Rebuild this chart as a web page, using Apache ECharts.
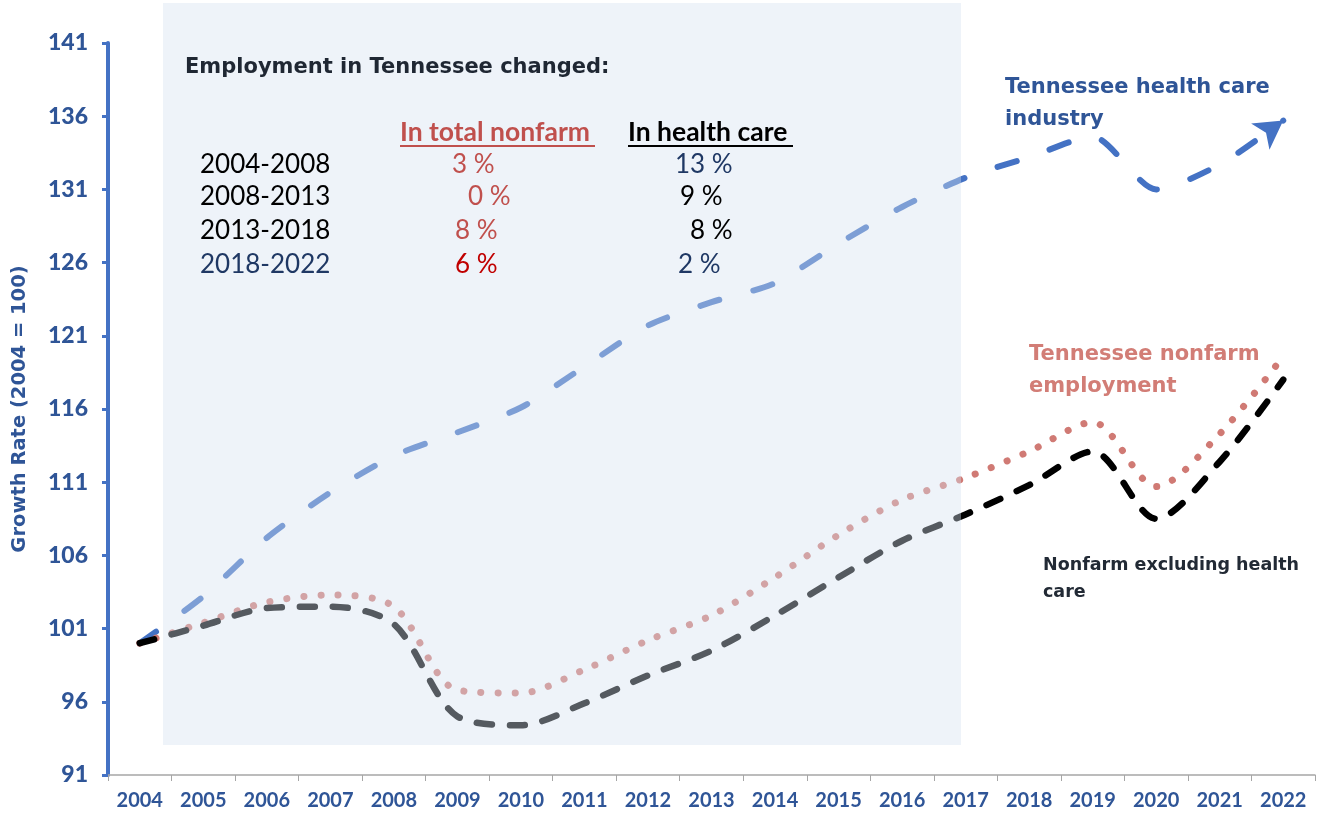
<!DOCTYPE html>
<html>
<head>
<meta charset="utf-8">
<script src="https://cdn.jsdelivr.net/npm/echarts@6/dist/echarts.min.js"></script>
<style>
html,body{margin:0;padding:0;background:#fff;}
#chart{width:1327px;height:817px;}
</style>
</head>
<body>
<div id="chart"></div>
<script>
const years = ['2004','2005','2006','2007','2008','2009','2010','2011','2012','2013','2014','2015','2016','2017','2018','2019','2020','2021','2022'];
const healthCare = [100, 103.2, 107.2, 110.3, 112.8, 114.4, 116.1, 118.9, 121.7, 123.3, 124.6, 127.3, 129.8, 131.8, 133.2, 134.6, 131.0, 132.7, 135.7];
const totalNonfarm = [100, 101.4, 102.8, 103.3, 102.5, 96.8, 96.6, 98.2, 100.2, 101.9, 104.5, 107.4, 109.8, 111.3, 113.1, 115.1, 110.7, 114.3, 119.6];
const nonfarmExHealth = [100, 101.2, 102.4, 102.5, 101.3, 95.0, 94.4, 95.9, 97.8, 99.5, 101.9, 104.5, 107.0, 108.8, 110.8, 113.1, 108.5, 112.4, 118.0];

const periods = ['2004-2008','2008-2013','2013-2018','2018-2022'];
const nonfarmChange = ['3 %','0 %','8 %','6 %'];
const healthChange = ['13 %','9 %','8 %','2 %'];

const FONT = 'Lato';
const WIDE = '"DejaVu Sans"';
const chart = echarts.init(document.getElementById('chart'));

const healthData = healthCare.map((v, i) => i === healthCare.length - 1
  ? {value: v, symbol: 'arrow', symbolSize: [24, 28], symbolRotate: -55}
  : v);

const periodColors = ['#000000','#000000','#000000','#1f3864'];
const nfColors = ['#c0504d','#c0504d','#c0504d','#c00000'];
const nfX = [452, 468, 455, 455];
const hcColors = ['#1f3864','#000000','#000000','#1f3864'];
const hcX = [675, 680, 690, 678];
const rowY = [165, 197, 231, 265];

const graphics = [
  {type: 'rect', z: 50, shape: {x: 163, y: 3, width: 798, height: 742}, style: {fill: 'rgba(213,224,240,0.4)'}},
  {type: 'text', z: 60, x: 185, y: 68, style: {text: 'Employment in Tennessee changed:', font: 'bold 21px ' + WIDE, fill: '#1f2733', textVerticalAlign: 'middle'}},
  {type: 'text', z: 60, x: 400, y: 132, style: {text: 'In total nonfarm', font: 'bold 26.5px ' + FONT, fill: '#c0504d', textVerticalAlign: 'middle'}},
  {type: 'line', z: 60, shape: {x1: 400, y1: 146, x2: 595, y2: 146}, style: {stroke: '#c0504d', lineWidth: 2}},
  {type: 'text', z: 60, x: 628, y: 132, style: {text: 'In health care', font: 'bold 26.5px ' + FONT, fill: '#000000', textVerticalAlign: 'middle'}},
  {type: 'line', z: 60, shape: {x1: 628, y1: 146, x2: 793, y2: 146}, style: {stroke: '#000000', lineWidth: 2}},
  {type: 'text', z: 60, x: 1005, y: 88, style: {text: 'Tennessee health care', font: 'bold 21px ' + WIDE, fill: '#2f5597', textVerticalAlign: 'middle'}},
  {type: 'text', z: 60, x: 1005, y: 120, style: {text: 'industry', font: 'bold 21px ' + WIDE, fill: '#2f5597', textVerticalAlign: 'middle'}},
  {type: 'text', z: 60, x: 1029, y: 355, style: {text: 'Tennessee nonfarm', font: 'bold 21px ' + WIDE, fill: '#d27d76', textVerticalAlign: 'middle'}},
  {type: 'text', z: 60, x: 1029, y: 387, style: {text: 'employment', font: 'bold 21px ' + WIDE, fill: '#d27d76', textVerticalAlign: 'middle'}},
  {type: 'text', z: 60, x: 1043, y: 565, style: {text: 'Nonfarm excluding health', font: 'bold 17.5px ' + WIDE, fill: '#222a35', textVerticalAlign: 'middle'}},
  {type: 'text', z: 60, x: 1043, y: 592, style: {text: 'care', font: 'bold 17.5px ' + WIDE, fill: '#222a35', textVerticalAlign: 'middle'}}
];
periods.forEach((p, i) => {
  graphics.push({type: 'text', z: 60, x: 200, y: rowY[i], style: {text: p, font: '26px ' + FONT, fill: periodColors[i], textVerticalAlign: 'middle'}});
  graphics.push({type: 'text', z: 60, x: nfX[i], y: rowY[i], style: {text: nonfarmChange[i], font: '26px ' + FONT, fill: nfColors[i], textVerticalAlign: 'middle'}});
  graphics.push({type: 'text', z: 60, x: hcX[i], y: rowY[i], style: {text: healthChange[i], font: '26px ' + FONT, fill: hcColors[i], textVerticalAlign: 'middle'}});
});

chart.setOption({
  animation: false,
  backgroundColor: '#ffffff',
  grid: {left: 108, right: 12, top: 43, bottom: 42},
  xAxis: {
    type: 'category',
    data: years,
    boundaryGap: true,
    axisLine: {lineStyle: {color: '#a6a6a6', width: 1.5}},
    axisTick: {show: true, length: 6, lineStyle: {color: '#a6a6a6'}},
    axisLabel: {color: '#2f5597', fontFamily: FONT, fontWeight: 'bold', fontSize: 20, margin: 16, interval: 0},
    splitLine: {show: false}
  },
  yAxis: {
    type: 'value',
    min: 91, max: 141, interval: 5,
    name: 'Growth Rate (2004 = 100)',
    nameLocation: 'middle',
    nameGap: 78,
    nameTextStyle: {color: '#2f5597', fontFamily: 'DejaVu Sans', fontWeight: 'bold', fontSize: 19.5},
    axisLine: {show: true, lineStyle: {color: '#4472c4', width: 4}},
    axisTick: {show: true, length: 6, lineStyle: {color: '#4472c4', width: 3}},
    axisLabel: {color: '#2f5597', fontFamily: FONT, fontWeight: 900, fontSize: 23, margin: 20},
    splitLine: {show: false}
  },
  graphic: {elements: graphics},
  series: [
    {
      name: 'Tennessee health care industry',
      type: 'line',
      data: healthData,
      smooth: 0.25,
      symbol: 'none',
      itemStyle: {color: '#4472c4'},
      lineStyle: {color: '#4472c4', width: 6, type: [20, 35], cap: 'round', join: 'round'},
      z: 2
    },
    {
      name: 'Tennessee nonfarm employment',
      type: 'line',
      data: totalNonfarm,
      smooth: 0.3,
      symbol: 'none',
      lineStyle: {color: '#d07a74', width: 7, type: [0.1, 17], cap: 'round'},
      z: 3
    },
    {
      name: 'Nonfarm excluding health care',
      type: 'line',
      data: nonfarmExHealth,
      smooth: 0.3,
      symbol: 'none',
      lineStyle: {color: '#000000', width: 6.5, type: [15, 18], cap: 'round', join: 'round'},
      z: 4
    }
  ]
});
</script>
</body>
</html>
